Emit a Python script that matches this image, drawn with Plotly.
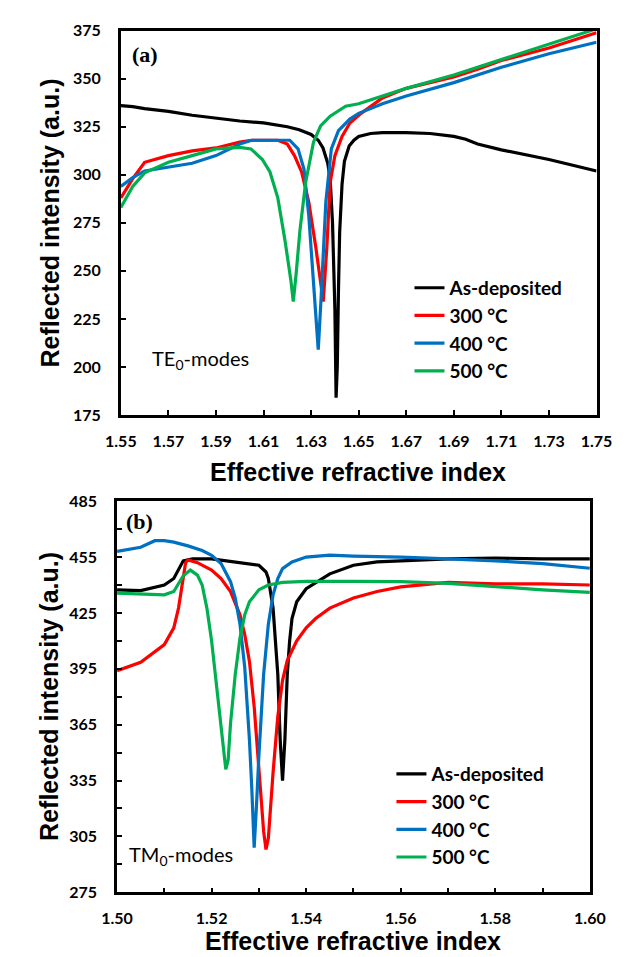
import plotly.graph_objects as go

# ---------------- Panel (a): TE0 modes ----------------
a_black_x = [1.550, 1.555, 1.560, 1.570, 1.580, 1.590, 1.600, 1.610, 1.620, 1.625, 1.630, 1.633, 1.635, 1.637,
             1.638, 1.639, 1.640, 1.6405, 1.641, 1.6415, 1.642, 1.643, 1.644, 1.646, 1.648, 1.650, 1.655, 1.660,
             1.670, 1.680, 1.690, 1.695, 1.700, 1.710, 1.720, 1.730, 1.740, 1.750]
a_black_y = [336, 335.5, 334.5, 333, 331, 329.5, 328, 327, 325, 323.5, 321, 318, 314, 306,
             298, 275, 230, 184, 200, 240, 270, 295, 307, 315, 318, 320, 321.5, 322,
             322, 321.5, 320, 318.5, 316, 313, 310.5, 308, 305, 302]

a_red_x = [1.550, 1.555, 1.560, 1.570, 1.580, 1.590, 1.600, 1.605, 1.610, 1.616, 1.620, 1.623, 1.626, 1.629,
           1.632, 1.634, 1.6351, 1.6366, 1.638, 1.640, 1.643, 1.6463, 1.651, 1.660, 1.670, 1.690, 1.700,
           1.710, 1.730, 1.750]
a_red_y = [288, 298, 306.5, 310, 312.5, 314, 317, 318, 318, 318, 316, 310, 301.5, 286,
           262, 243, 234, 262, 296, 310, 320, 327, 332, 340, 345, 351, 355,
           359.5, 366, 374]

a_blue_x = [1.550, 1.555, 1.560, 1.570, 1.580, 1.590, 1.600, 1.605, 1.610, 1.615, 1.621, 1.6245, 1.627, 1.629,
            1.6315, 1.633, 1.6342, 1.6362, 1.6385, 1.6415, 1.6463, 1.650, 1.660, 1.670, 1.690, 1.710,
            1.730, 1.750]
a_blue_y = [294, 298.5, 302, 304, 306, 310, 316, 318, 318, 318, 318, 313.5, 303, 279,
            236, 209, 236, 286, 313.5, 323, 329, 332, 337, 341, 348, 356,
            363, 369]

a_green_x = [1.550, 1.555, 1.560, 1.570, 1.580, 1.590, 1.600, 1.6047, 1.6095, 1.6127, 1.616, 1.619, 1.6215,
             1.6225, 1.6237, 1.6253, 1.6277, 1.631, 1.634, 1.638, 1.6445, 1.650, 1.660, 1.670, 1.690,
             1.710, 1.730, 1.750]
a_green_y = [283, 294, 301, 306.5, 310, 313.5, 314.3, 313.5, 308, 301.5, 288, 266, 245,
             234, 248.5, 271, 296, 317, 325.5, 330.5, 335.7, 337, 341, 345, 352,
             360, 368, 376]

# ---------------- Panel (b): TM0 modes ----------------
b_black_x = [1.500, 1.505, 1.510, 1.512, 1.514, 1.516, 1.520, 1.525, 1.530, 1.5315, 1.532, 1.533, 1.534,
             1.5345, 1.535, 1.5355, 1.536, 1.5365, 1.537, 1.538, 1.540, 1.545, 1.550, 1.555, 1.560,
             1.570, 1.580, 1.590, 1.600]
b_black_y = [437.4, 437, 440, 443.5, 453, 454, 454, 452.4, 450.6, 447, 443.5, 427.6, 392,
             357, 335, 357, 392, 410, 422, 431, 438, 446, 450.6, 452.4, 453,
             454, 454.5, 454, 454]

b_red_x = [1.500, 1.505, 1.510, 1.512, 1.513, 1.514, 1.5145, 1.515, 1.517, 1.520, 1.522, 1.524, 1.526,
           1.527, 1.528, 1.529, 1.530, 1.531, 1.5315, 1.532, 1.533, 1.534, 1.535, 1.536, 1.538, 1.540,
           1.542, 1.545, 1.550, 1.555, 1.560, 1.570, 1.580, 1.590, 1.600]
b_red_y = [394, 398.5, 408, 417, 427.6, 445, 452, 453.5, 452, 448, 443.5, 436.5, 424,
           413.5, 399, 374.7, 339.4, 307.7, 298, 304, 339.4, 369.4, 388.8, 399.4, 410, 417,
           422, 427.6, 433, 436.5, 439, 441.4, 440.6, 440.6, 440]

b_blue_x = [1.500, 1.505, 1.508, 1.510, 1.512, 1.515, 1.518, 1.520, 1.522, 1.524, 1.525, 1.526, 1.527,
            1.528, 1.5285, 1.529, 1.5295, 1.530, 1.531, 1.532, 1.533, 1.534, 1.535, 1.537, 1.540,
            1.545, 1.550, 1.560, 1.570, 1.580, 1.590, 1.600]
b_blue_y = [458, 460.3, 463.8, 463.8, 463, 461, 458.5, 456, 451.5, 441.8, 433, 419, 396,
            357, 330.6, 299, 322, 348.5, 392, 419, 434.7, 443.5, 448.8, 452.4, 455,
            456, 455.5, 455, 454, 453, 451.5, 449]

b_green_x = [1.500, 1.505, 1.510, 1.512, 1.514, 1.5155, 1.517, 1.518, 1.519, 1.520, 1.521, 1.522, 1.523,
             1.5235, 1.524, 1.525, 1.526, 1.527, 1.528, 1.530, 1.532, 1.535, 1.540, 1.550, 1.560,
             1.570, 1.580, 1.590, 1.600]
b_green_y = [435.6, 435, 434.7, 436.5, 445, 448, 445.3, 440, 427.6, 410, 387, 360.4, 341,
             346, 365.7, 392, 411.5, 424, 431, 437.4, 440, 441.4, 442, 442, 441.8,
             440.9, 439, 437.4, 436]

series_names = ["As-deposited", "300 °C", "400 °C", "500 °C"]
series_colors = ["#000000", "#ff0000", "#0070c0", "#00b050"]

a_xticks = [1.55, 1.57, 1.59, 1.61, 1.63, 1.65, 1.67, 1.69, 1.71, 1.73, 1.75]
a_yticks = [175, 200, 225, 250, 275, 300, 325, 350, 375]
b_xticks = [1.50, 1.52, 1.54, 1.56, 1.58, 1.60]
b_yticks = [275, 305, 335, 365, 395, 425, 455, 485]

W, H = 633, 957
fig = go.Figure()

a_data = [(a_black_x, a_black_y), (a_red_x, a_red_y), (a_blue_x, a_blue_y), (a_green_x, a_green_y)]
b_data = [(b_black_x, b_black_y), (b_red_x, b_red_y), (b_blue_x, b_blue_y), (b_green_x, b_green_y)]

for (xs, ys), nm, col in zip(a_data, series_names, series_colors):
    fig.add_trace(go.Scatter(x=xs, y=ys, mode="lines", name=nm, line=dict(color=col, width=3.2),
                             xaxis="x", yaxis="y", legend="legend"))
for (xs, ys), nm, col in zip(b_data, series_names, series_colors):
    fig.add_trace(go.Scatter(x=xs, y=ys, mode="lines", name=nm, line=dict(color=col, width=3.2),
                             xaxis="x2", yaxis="y2", legend="legend2"))

tick_font = dict(family="Lato", size=16, color="black", weight="bold")
common_axis = dict(showline=True, mirror=True, linecolor="black", linewidth=2.5,
                   ticks="inside", ticklen=5, tickwidth=2, tickcolor="black",
                   showgrid=False, zeroline=False, tickfont=tick_font)
minor_style = dict(ticks="inside", ticklen=5, tickwidth=2, tickcolor="black", showgrid=False)


def px_x(p):
    return p / W


def px_y(p):
    return 1 - p / H


fig.update_layout(
    width=W, height=H, margin=dict(l=0, r=0, t=0, b=0),
    paper_bgcolor="white", plot_bgcolor="white",
    xaxis=dict(domain=[px_x(102), px_x(603)], range=[1.55, 1.75], anchor="y",
               tickvals=a_xticks, ticktext=[f"{v:.2f}" for v in a_xticks], ticklabelstandoff=10, **common_axis),
    yaxis=dict(domain=[px_y(405), px_y(13)], range=[175, 375], anchor="x",
               tickvals=a_yticks, ticklabelstandoff=14, **common_axis),
    xaxis2=dict(domain=[px_x(98), px_x(596)], range=[1.50, 1.60], anchor="y2",
                tickvals=b_xticks, ticktext=[f"{v:.2f}" for v in b_xticks],
                minor=dict(tick0=1.50, dtick=0.01, **minor_style),
                ticklabelstandoff=10, **common_axis),
    yaxis2=dict(domain=[px_y(892), px_y(493)], range=[275, 485], anchor="x2",
                tickvals=b_yticks,
                minor=dict(tick0=275, dtick=15, **minor_style),
                ticklabelstandoff=14, **common_axis),
    legend=dict(x=px_x(406), y=px_y(256), xanchor="left", yanchor="top",
                font=dict(family="Lato", size=19, color="black", weight="bold"),
                bgcolor="rgba(0,0,0,0)", itemwidth=30, tracegroupgap=0),
    legend2=dict(x=px_x(387), y=px_y(752), xanchor="left", yanchor="top",
                 font=dict(family="Lato", size=19, color="black", weight="bold"),
                 bgcolor="rgba(0,0,0,0)", itemwidth=30, tracegroupgap=0),
    showlegend=True,
)

title_font = dict(family="Liberation Sans", size=25, color="black", weight="bold")
ann = []
# axis titles
ann.append(dict(text="Effective refractive index", x=px_x(352), y=px_y(463), xref="paper", yref="paper",
                showarrow=False, font=title_font, xanchor="center", yanchor="middle"))
ann.append(dict(text="Effective refractive index", x=px_x(347), y=px_y(942), xref="paper", yref="paper",
                showarrow=False, font=title_font, xanchor="center", yanchor="middle"))
ann.append(dict(text="Reflected intensity (a.u.)", x=px_x(27), y=px_y(209), xref="paper", yref="paper",
                showarrow=False, font=title_font, textangle=-90, xanchor="center", yanchor="middle"))
ann.append(dict(text="Reflected intensity (a.u.)", x=px_x(27), y=px_y(692), xref="paper", yref="paper",
                showarrow=False, font=title_font, textangle=-90, xanchor="center", yanchor="middle"))
# panel labels
panel_font = dict(family="Liberation Serif", size=22, color="black", weight="bold")
ann.append(dict(text="(a)", x=px_x(112), y=px_y(37), xref="paper", yref="paper", showarrow=False,
                font=panel_font, xanchor="left", yanchor="middle"))
ann.append(dict(text="(b)", x=px_x(105), y=px_y(514), xref="paper", yref="paper", showarrow=False,
                font=panel_font, xanchor="left", yanchor="middle"))
# mode labels
mode_font = dict(family="Lato", size=20, color="black")
ann.append(dict(text="TE<sub>0</sub>-modes", x=px_x(133), y=px_y(348), xref="paper", yref="paper",
                showarrow=False, font=mode_font, xanchor="left", yanchor="middle"))
ann.append(dict(text="TM<sub>0</sub>-modes", x=px_x(108), y=px_y(854), xref="paper", yref="paper",
                showarrow=False, font=mode_font, xanchor="left", yanchor="middle"))
fig.update_layout(annotations=ann)

fig.write_html("out.html")
